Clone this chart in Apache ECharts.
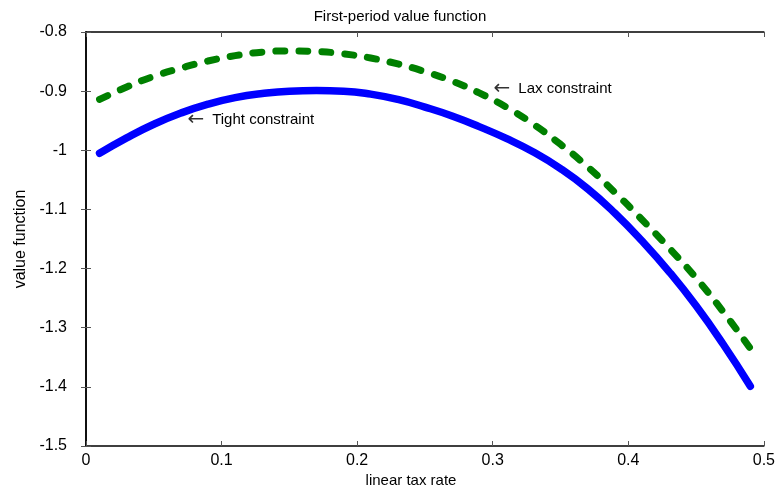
<!DOCTYPE html>
<html>
<head>
<meta charset="utf-8">
<script src="https://cdn.jsdelivr.net/npm/echarts@6/dist/echarts.min.js"></script>
<style>
  html, body { margin: 0; padding: 0; background: #fff; }
  #chart { width: 778px; height: 490px; }
</style>
</head>
<body>
<div id="chart"></div>
<script>
// Tax rates at which the value function was evaluated
const taxRates = [0.01, 0.03, 0.05, 0.07, 0.09, 0.11, 0.13, 0.15, 0.17, 0.19,
                  0.21, 0.23, 0.25, 0.27, 0.29, 0.31, 0.33, 0.35, 0.37, 0.39,
                  0.41, 0.43, 0.45, 0.47, 0.49];

// First-period value function under the tight constraint
const tightValues = [-1.005, -0.979, -0.956, -0.937, -0.922, -0.911, -0.904, -0.900, -0.899, -0.900,
                     -0.905, -0.914, -0.927, -0.942, -0.960, -0.980, -1.003, -1.031, -1.065, -1.106,
                     -1.153, -1.205, -1.263, -1.328, -1.399];

// First-period value function under the lax constraint
const laxValues = [-0.914, -0.893, -0.875, -0.861, -0.849, -0.840, -0.834, -0.832, -0.833, -0.837,
                   -0.844, -0.854, -0.867, -0.883, -0.903, -0.927, -0.956, -0.990, -1.028, -1.071,
                   -1.117, -1.165, -1.216, -1.273, -1.335];

const xTicks = [0, 0.1, 0.2, 0.3, 0.4, 0.5];
const yTicks = [-1.5, -1.4, -1.3, -1.2, -1.1, -1, -0.9, -0.8];

// Annotation anchors (data coordinates) for the curve labels
const tightLabelAt = [0.0748, -0.949];
const laxLabelAt = [0.3006, -0.896];

const FONT = 'Liberation Sans, Arial, sans-serif';

const pairs = (xs, ys) => xs.map((x, i) => [x, ys[i]]);

const chart = echarts.init(document.getElementById('chart'), null, { renderer: 'canvas' });

const axisLine = { show: true, lineStyle: { color: '#000', width: 1.5 } };
const axisTick = { show: true, inside: true, length: 5, lineStyle: { color: '#555', width: 1 } };

// Curve label: a long thin arrow followed by the text
const curveLabel = text => ({
  show: true, position: 'right', distance: 0,
  formatter: '{a|←}{t|' + text + '}',
  rich: {
    a: { fontFamily: 'DejaVu Sans', fontSize: 20, color: '#333', padding: [0, 8, 0, 0] },
    t: { fontFamily: FONT, fontSize: 15, color: '#000' }
  }
});

chart.setOption({
  animation: false,
  backgroundColor: '#fff',
  title: [
    {
      text: 'First-period value function',
      left: 395, top: 4, textAlign: 'center',
      textStyle: { fontFamily: FONT, fontSize: 15, fontWeight: 'normal', color: '#000' }
    },
    {
      text: 'linear tax rate',
      left: 406, top: 468, textAlign: 'center',
      textStyle: { fontFamily: FONT, fontSize: 15, fontWeight: 'normal', color: '#000' }
    }
  ],
  grid: { left: 86, right: 10, top: 32, bottom: 44, containLabel: false },
  xAxis: [
    {
      type: 'value', min: xTicks[0], max: xTicks[xTicks.length - 1], interval: 0.1,
      position: 'bottom',
      axisLine, axisTick, splitLine: { show: false },
      axisLabel: { fontFamily: FONT, fontSize: 16, color: '#000', margin: 7,
                   formatter: v => String(+v.toFixed(1)) }
    },
    {
      type: 'value', min: xTicks[0], max: xTicks[xTicks.length - 1], interval: 0.1,
      position: 'top',
      axisLine, axisTick, splitLine: { show: false }, axisLabel: { show: false }
    }
  ],
  yAxis: [
    {
      type: 'value', min: yTicks[0], max: yTicks[yTicks.length - 1], interval: 0.1,
      position: 'left',
      name: 'value function', nameLocation: 'middle', nameGap: 57,
      nameTextStyle: { fontFamily: FONT, fontSize: 16, color: '#000' },
      axisLine, axisTick, splitLine: { show: false },
      axisLabel: { fontFamily: FONT, fontSize: 16, color: '#000', margin: 19,
                   formatter: v => String(+v.toFixed(1)) }
    },
    {
      type: 'value', min: yTicks[0], max: yTicks[yTicks.length - 1], interval: 0.1,
      position: 'right',
      axisLine, axisTick, splitLine: { show: false }, axisLabel: { show: false }
    }
  ],
  series: [
    {
      name: 'Tight constraint',
      type: 'line',
      data: pairs(taxRates, tightValues),
      smooth: true,
      showSymbol: false,
      lineStyle: { color: '#0000ff', width: 7.5, cap: 'round', join: 'round' },
      markPoint: {
        symbol: 'circle', symbolSize: 0,
        data: [{ coord: tightLabelAt, value: 0 }],
        label: curveLabel('Tight constraint')
      }
    },
    {
      name: 'Lax constraint',
      type: 'line',
      data: pairs(taxRates, laxValues),
      smooth: true,
      showSymbol: false,
      lineStyle: { color: '#008000', width: 7, type: [9, 14], cap: 'round', join: 'round' },
      markPoint: {
        symbol: 'circle', symbolSize: 0,
        data: [{ coord: laxLabelAt, value: 0 }],
        label: curveLabel('Lax constraint')
      }
    }
  ]
});
</script>
</body>
</html>
